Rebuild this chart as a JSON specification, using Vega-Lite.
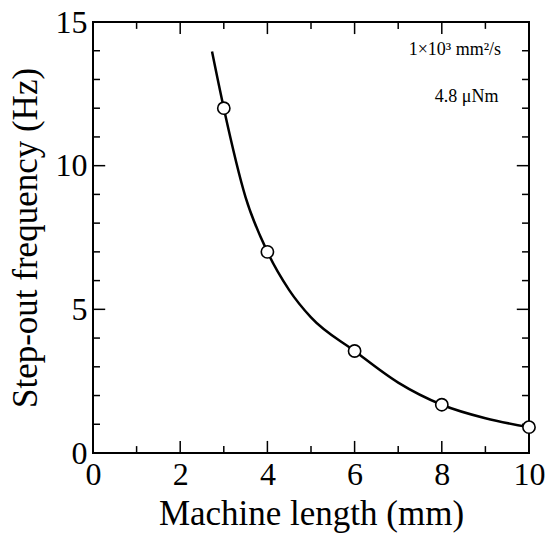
{
  "$schema": "https://vega.github.io/schema/vega-lite/v6.json",
  "autosize": {"type": "none"},
  "padding": {"left": 93, "top": 22, "right": 18, "bottom": 85},
  "width": 436,
  "height": 431,
  "background": "white",
  "config": {
    "view": {"stroke": "black", "strokeWidth": 2},
    "font": "Liberation Serif",
    "axis": {"domain": false, "grid": false, "ticks": false, "labelColor": "black", "titleColor": "black", "labelFont": "Liberation Serif", "titleFont": "Liberation Serif", "titleFontWeight": "normal"}
  },
  "datasets": {
    "curve": [
      {"length": 2.73, "freq": 13.97},
      {"length": 3, "freq": 12.0},
      {"length": 3.5, "freq": 8.9},
      {"length": 4, "freq": 7.0},
      {"length": 4.5, "freq": 5.67},
      {"length": 5, "freq": 4.72},
      {"length": 6, "freq": 3.55},
      {"length": 7, "freq": 2.45},
      {"length": 8, "freq": 1.68},
      {"length": 9, "freq": 1.21},
      {"length": 10, "freq": 0.9}
    ],
    "measured": [
      {"length": 3, "freq": 12.0},
      {"length": 4, "freq": 7.0},
      {"length": 6, "freq": 3.55},
      {"length": 8, "freq": 1.68},
      {"length": 10, "freq": 0.9}
    ],
    "notes": [
      {"length": 9.36, "freq": 13.85, "label": "1×10³ mm²/s"},
      {"length": 9.3, "freq": 12.22, "label": "4.8 μNm"}
    ],
    "xmajor": [{"v": 0}, {"v": 2}, {"v": 4}, {"v": 6}, {"v": 8}, {"v": 10}],
    "xminor": [{"v": 1}, {"v": 3}, {"v": 5}, {"v": 7}, {"v": 9}],
    "ymajor": [{"v": 0}, {"v": 5}, {"v": 10}, {"v": 15}],
    "yminor": [{"v": 1}, {"v": 2}, {"v": 3}, {"v": 4}, {"v": 6}, {"v": 7}, {"v": 8}, {"v": 9}, {"v": 11}, {"v": 12}, {"v": 13}, {"v": 14}]
  },
  "layer": [
    {
      "data": {"name": "curve"},
      "mark": {"type": "line", "color": "black", "strokeWidth": 2.5, "interpolate": "monotone"},
      "encoding": {
        "x": {"field": "length", "type": "quantitative", "scale": {"domain": [0, 10], "nice": false},
          "axis": {"orient": "bottom", "title": "Machine length (mm)", "values": [0,2,4,6,8,10], "ticks": false,
            "labelFontSize": 32, "labelPadding": 6, "labelFlush": false, "labelOverlap": false,
            "titleFontSize": 35, "titlePadding": 6}},
        "y": {"field": "freq", "type": "quantitative", "scale": {"domain": [0, 15], "nice": false},
          "axis": {"orient": "left", "title": "Step-out frequency (Hz)", "values": [0,5,10,15], "ticks": false,
            "labelFontSize": 32, "labelPadding": 6, "labelFlush": false, "labelOverlap": false,
            "titleFontSize": 35, "titlePadding": 12}}
      }
    },
    {
      "data": {"name": "xmajor"},
      "mark": {"type": "rule", "color": "black", "strokeWidth": 1.5},
      "encoding": {
        "x": {"field": "v", "type": "quantitative", "axis": null},
        "y": {"datum": 0, "type": "quantitative", "axis": null},
        "y2": {"datum": 0.42}
      }
    },
    {
      "data": {"name": "xminor"},
      "mark": {"type": "rule", "color": "black", "strokeWidth": 1.5},
      "encoding": {
        "x": {"field": "v", "type": "quantitative", "axis": null},
        "y": {"datum": 0, "type": "quantitative", "axis": null},
        "y2": {"datum": 0.24}
      }
    },
    {
      "data": {"name": "xmajor"},
      "mark": {"type": "rule", "color": "black", "strokeWidth": 1.5},
      "encoding": {
        "x": {"field": "v", "type": "quantitative", "axis": null},
        "y": {"datum": 15, "type": "quantitative", "axis": null},
        "y2": {"datum": 14.58}
      }
    },
    {
      "data": {"name": "xminor"},
      "mark": {"type": "rule", "color": "black", "strokeWidth": 1.5},
      "encoding": {
        "x": {"field": "v", "type": "quantitative", "axis": null},
        "y": {"datum": 15, "type": "quantitative", "axis": null},
        "y2": {"datum": 14.76}
      }
    },
    {
      "data": {"name": "ymajor"},
      "mark": {"type": "rule", "color": "black", "strokeWidth": 1.5},
      "encoding": {
        "y": {"field": "v", "type": "quantitative", "axis": null},
        "x": {"datum": 0, "type": "quantitative", "axis": null},
        "x2": {"datum": 0.28}
      }
    },
    {
      "data": {"name": "yminor"},
      "mark": {"type": "rule", "color": "black", "strokeWidth": 1.5},
      "encoding": {
        "y": {"field": "v", "type": "quantitative", "axis": null},
        "x": {"datum": 0, "type": "quantitative", "axis": null},
        "x2": {"datum": 0.16}
      }
    },
    {
      "data": {"name": "ymajor"},
      "mark": {"type": "rule", "color": "black", "strokeWidth": 1.5},
      "encoding": {
        "y": {"field": "v", "type": "quantitative", "axis": null},
        "x": {"datum": 10, "type": "quantitative", "axis": null},
        "x2": {"datum": 9.72}
      }
    },
    {
      "data": {"name": "yminor"},
      "mark": {"type": "rule", "color": "black", "strokeWidth": 1.5},
      "encoding": {
        "y": {"field": "v", "type": "quantitative", "axis": null},
        "x": {"datum": 10, "type": "quantitative", "axis": null},
        "x2": {"datum": 9.84}
      }
    },
    {
      "data": {"name": "measured"},
      "mark": {"type": "point", "shape": "circle", "filled": false, "fill": "white", "fillOpacity": 1, "stroke": "black", "strokeWidth": 1.6, "size": 150, "opacity": 1},
      "encoding": {
        "x": {"field": "length", "type": "quantitative", "axis": null},
        "y": {"field": "freq", "type": "quantitative", "axis": null}
      }
    },
    {
      "data": {"name": "notes"},
      "mark": {"type": "text", "align": "right", "baseline": "alphabetic", "fontSize": 18, "font": "Liberation Serif", "color": "black"},
      "encoding": {
        "x": {"field": "length", "type": "quantitative", "axis": null},
        "y": {"field": "freq", "type": "quantitative", "axis": null},
        "text": {"field": "label"}
      }
    }
  ],
  "resolve": {"axis": {"x": "independent", "y": "independent"}}
}
